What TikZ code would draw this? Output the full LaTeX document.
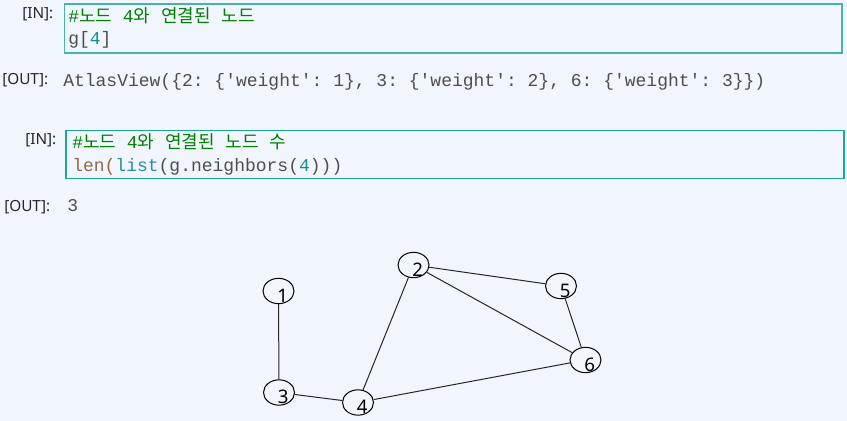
\documentclass[tikz,border=0pt]{standalone}
\usepackage{fontspec}
\setmainfont{Noto Sans}
\setmonofont{Liberation Mono}
\newfontfamily\krfont{Noto Sans CJK KR}
\usetikzlibrary{shapes.geometric}

\definecolor{pagebg}{RGB}{241,245,254}
\definecolor{cellline}{RGB}{72,180,164}
\definecolor{celllinetwo}{RGB}{30,168,140}
\definecolor{codegray}{RGB}{78,78,78}
\definecolor{commentgreen}{RGB}{0,128,0}
\definecolor{numteal}{RGB}{20,140,140}
\definecolor{builtinbrown}{RGB}{140,106,66}
\definecolor{listteal}{RGB}{44,140,160}

% Hangul inside the monospaced code lines
\newcommand{\hg}[1]{{\krfont #1}}
% digit of a graph node, set a little right of and below the centre
\newcommand{\nodelabel}[1]{%
  \makebox[0pt]{\raisebox{-8.3pt}[0pt][0pt]{\hspace{6.4pt}\fontsize{14}{16}\selectfont #1}}}

\begin{document}
\begin{tikzpicture}[x=0.75pt, y=-0.75pt,
    cell/.style={line width=1.1pt},
    prompt/.style={anchor=base west, inner sep=0pt, font=\fontsize{11.5}{13}\selectfont, text=black!85},
    code/.style={anchor=base west, inner sep=0pt, font=\ttfamily\fontsize{13.5}{16}\selectfont, text=codegray},
    gnode/.style={draw, ellipse, inner sep=0pt, minimum width=23.25pt, minimum height=19pt,
                  fill=pagebg, line width=0.75pt},
    edge/.style={line width=0.75pt, black!85}]
  \fill[pagebg] (0,0) rectangle (847,421);
  \useasboundingbox (0,0) rectangle (847,421);

  % first cell: g[4]
  \draw[cell, draw=cellline] (64.5,4) rectangle (842,53);
  \node[prompt] (in1) at (22,18) {[IN]:};
  \node[code, text=commentgreen] (c1a) at (68,22.5) {\#\hg{노드} 4\hg{와} \hg{연결된} \hg{노드}};
  \node[code] (c1b) at (68,45) {g[{\color{numteal}4}]};
  \node[prompt] (out1) at (2,84) {[OUT]:};
  \node[code] (o1) at (63,86) {AtlasView(\{2: \{'weight': 1\}, 3: \{'weight': 2\}, 6: \{'weight': 3\}\})};

  % second cell: number of neighbours
  \draw[cell, draw=celllinetwo] (66,130.5) rectangle (844,178.5);
  \node[prompt] (in2) at (25,144) {[IN]:};
  \node[code, text=commentgreen] (c2a) at (72,148.5) {\#\hg{노드} 4\hg{와} \hg{연결된} \hg{노드} \hg{수}};
  \node[code] (c2b) at (72,171)
    {{\color{builtinbrown}len(}{\color{listteal}list}(g.neighbors({\color{numteal}4})))};
  \node[prompt] (out2) at (4,211) {[OUT]:};
  \node[code] (o2) at (67,211.5) {3};

  % the graph
  \node[gnode] (n1) at (278.5,291) {\nodelabel{1}};
  \node[gnode] (n2) at (413.5,265) {\nodelabel{2}};
  \node[gnode] (n3) at (279,392.5) {\nodelabel{3}};
  \node[gnode] (n4) at (358,402.5) {\nodelabel{4}};
  \node[gnode] (n5) at (561,286) {\nodelabel{5}};
  \node[gnode] (n6) at (585.5,360) {\nodelabel{6}};

  \draw[edge] (n1) -- (n3);
  \draw[edge] (n3) -- (n4);
  \draw[edge] (n4) -- (n2);
  \draw[edge] (n2) -- (n5);
  \draw[edge] (n2) -- (n6);
  \draw[edge] (n5) -- (n6);
  \draw[edge] (n4) -- (n6);
\end{tikzpicture}
\end{document}
